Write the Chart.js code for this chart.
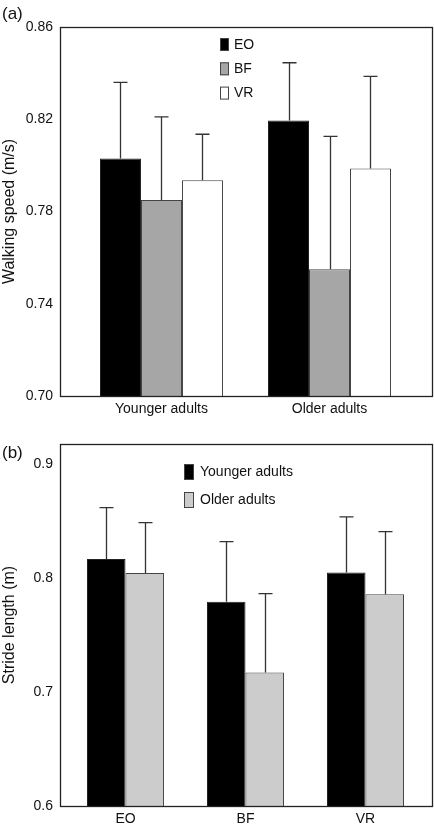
<!DOCTYPE html>
<html>
<head>
<meta charset="utf-8">
<script src="https://cdn.jsdelivr.net/npm/chart.js@4/dist/chart.umd.min.js"></script>
<style>
  html, body { margin: 0; padding: 0; background: #fff; }
  #wrap { position: relative; width: 434px; height: 826px; }
  canvas { display: block; position: absolute; left: 0; }
  .panel { position: absolute; left: 2px; font-family: "Liberation Sans", Arial, sans-serif; font-size: 17px; color: #111; }
</style>
</head>
<body>
<div id="wrap">
  <canvas id="ca" width="434" height="418" style="top:0"></canvas>
  <canvas id="cb" width="434" height="408" style="top:418px"></canvas>
  <div class="panel" style="top:4px">(a)</div>
  <div class="panel" style="top:443px">(b)</div>
</div>
<script>
// ---------- Panel (a): walking speed ----------
const groupsA = ['Younger adults', 'Older adults'];
const conditionsA = ['EO', 'BF', 'VR'];
const eoSpeed = [0.803, 0.8195];
const bfSpeed = [0.785, 0.755];
const vrSpeed = [0.7935, 0.7986];
const eoSpeedSD = [0.033, 0.025];
const bfSpeedSD = [0.036, 0.0576];
const vrSpeedSD = [0.020, 0.040];
const yTicksA = [0.70, 0.74, 0.78, 0.82, 0.86];

// ---------- Panel (b): stride length ----------
const conditionsB = ['EO', 'BF', 'VR'];
const groupsB = ['Younger adults', 'Older adults'];
const youngStride = [0.8167, 0.7792, 0.8047];
const olderStride = [0.8044, 0.717, 0.7857];
const youngStrideSD = [0.045, 0.0527, 0.0488];
const olderStrideSD = [0.0441, 0.0693, 0.0549];
const yTicksB = [0.6, 0.7, 0.8, 0.9];

const FONT = '"Liberation Sans", Arial, sans-serif';
Chart.defaults.font.family = FONT;
Chart.defaults.color = '#111';

const toXY = arr => arr.map((v, i) => ({ x: i, y: v }));

const frameAndErrors = {
  id: 'frameAndErrors',
  afterDatasetsDraw(chart, args, opts) {
    const ctx = chart.ctx;
    const ys = chart.scales.y;
    ctx.save();
    // error bars (upper only)
    chart.data.datasets.forEach((ds, i) => {
      const meta = chart.getDatasetMeta(i);
      meta.data.forEach((el, j) => {
        const top = ys.getPixelForValue(ds.data[j].y + ds.sd[j]);
        const x = Math.round(el.x) + 0.5;
        ctx.strokeStyle = '#333';
        ctx.lineWidth = 1.3;
        ctx.beginPath();
        ctx.moveTo(x, el.y);
        ctx.lineTo(x, top);
        ctx.moveTo(x - 7, top);
        ctx.lineTo(x + 7, top);
        ctx.stroke();
      });
    });
    // frame
    const a = chart.chartArea;
    ctx.strokeStyle = '#222';
    ctx.lineWidth = 1.3;
    ctx.strokeRect(a.left + 0.5, a.top + 0.5, a.right - a.left - 1, a.bottom - a.top);
    // legend
    const L = opts.legend;
    ctx.font = L.fontSize + 'px ' + FONT;
    ctx.textBaseline = 'middle';
    ctx.textAlign = 'left';
    chart.data.datasets.forEach((ds, i) => {
      const bx = L.x, by = L.y + i * L.gap;
      ctx.fillStyle = ds.backgroundColor;
      ctx.fillRect(bx, by, L.w, L.h);
      ctx.strokeStyle = '#444';
      ctx.lineWidth = 1;
      ctx.strokeRect(bx + 0.5, by + 0.5, L.w - 1, L.h - 1);
      ctx.fillStyle = '#111';
      ctx.fillText(ds.label, bx + L.w + L.textGap, by + L.h / 2 + 0.5);
    });
    ctx.restore();
  }
};

function makeChart(id, cfg) {
  return new Chart(document.getElementById(id), {
    type: 'bar',
    data: { datasets: cfg.datasets },
    options: {
      responsive: false,
      animation: false,
      devicePixelRatio: 1,
      layout: { padding: { top: cfg.padTop, right: 1, left: 0, bottom: 0 } },
      plugins: {
        legend: { display: false },
        tooltip: { enabled: false },
        frameAndErrors: { legend: cfg.legend }
      },
      datasets: { bar: { categoryPercentage: cfg.catPct, barPercentage: 1, borderWidth: 1, borderSkipped: 'bottom' } },
      scales: {
        x: {
          type: 'linear',
          offset: false,
          min: cfg.xMin, max: cfg.xMax,
          grid: { display: false, drawTicks: false, offset: false },
          border: { display: false },
          afterBuildTicks: s => { s.ticks = cfg.categories.map((_, i) => ({ value: i })); },
          afterFit: s => { s.height = cfg.xAxisH; },
          ticks: { padding: 5, font: { size: 14 }, color: '#111', maxRotation: 0, autoSkip: false,
                   callback: v => cfg.categories[v] }
        },
        y: {
          min: cfg.yMin, max: cfg.yMax,
          grid: { display: false, drawTicks: false },
          border: { display: false },
          afterBuildTicks: s => { s.ticks = cfg.yTicks.map(v => ({ value: v })); },
          afterFit: s => { s.width = 60; },
          ticks: { padding: 7, font: { size: 14 }, color: '#111', callback: v => v.toFixed(cfg.dec) },
          title: { display: true, text: cfg.yTitle, font: { size: 16 }, color: '#111', padding: { top: 0, bottom: 0 } }
        }
      }
    },
    plugins: [frameAndErrors]
  });
}

makeChart('ca', {
  categories: groupsA,
  datasets: [
    { label: conditionsA[0], data: toXY(eoSpeed), sd: eoSpeedSD, backgroundColor: '#000000', borderColor: '#222' },
    { label: conditionsA[1], data: toXY(bfSpeed), sd: bfSpeedSD, backgroundColor: '#a6a6a6', borderColor: '#444' },
    { label: conditionsA[2], data: toXY(vrSpeed), sd: vrSpeedSD, backgroundColor: '#ffffff', borderColor: '#444' }
  ],
  padTop: 27, xAxisH: 22,
  xMin: -0.604, xMax: 1.616, catPct: 0.732,
  yMin: 0.70, yMax: 0.86, yTicks: yTicksA, dec: 2,
  yTitle: 'Walking speed (m/s)',
  legend: { x: 220, y: 38, w: 9, h: 13, gap: 24.3, textGap: 5, fontSize: 14 }
});

makeChart('cb', {
  categories: conditionsB,
  datasets: [
    { label: groupsB[0], data: toXY(youngStride), sd: youngStrideSD, backgroundColor: '#000000', borderColor: '#222' },
    { label: groupsB[1], data: toXY(olderStride), sd: olderStrideSD, backgroundColor: '#cccccc', borderColor: '#444' }
  ],
  padTop: 26, xAxisH: 20,
  xMin: -0.546, xMax: 2.5625, catPct: 0.642,
  yMin: 0.6, yMax: 0.9175, yTicks: yTicksB, dec: 1,
  yTitle: 'Stride length (m)',
  legend: { x: 184, y: 46, w: 10, h: 16, gap: 28, textGap: 6, fontSize: 14 }
});
</script>
</body>
</html>
